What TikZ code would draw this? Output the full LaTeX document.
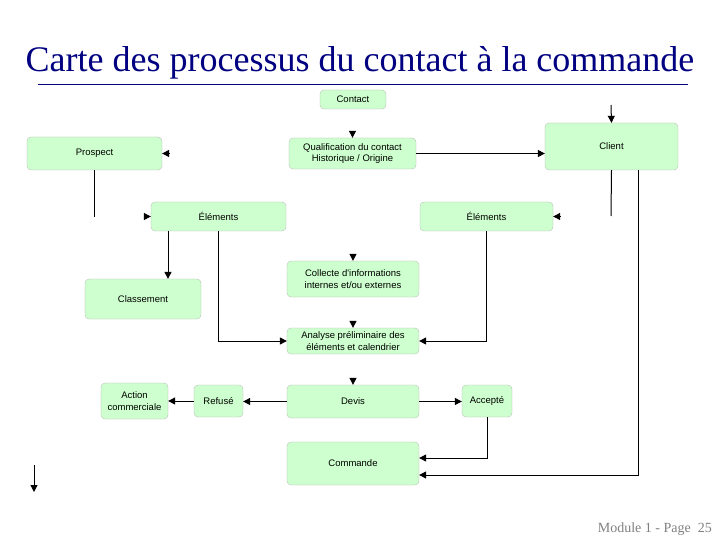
\documentclass[tikz,border=0pt]{standalone}
\usepackage{fontspec}
\setmainfont{Liberation Serif}
\newfontfamily\boxfont{Liberation Sans}
\usetikzlibrary{arrows.meta,calc}
\definecolor{boxgreen}{RGB}{206,255,206}
\definecolor{titlenavy}{RGB}{0,0,128}
\begin{document}
\begin{tikzpicture}[x=1pt,y=-1pt,
  box/.style={rectangle,rounded corners=4pt,fill=boxgreen,draw=black!30,line width=0.3pt,
    inner sep=1pt,align=center,font=\boxfont\fontsize{9.5}{11.5}\selectfont},
  arr/.style={-{Triangle[length=7pt,width=7pt]},line width=1pt},
  ln/.style={line width=1pt}]
\useasboundingbox (0,0) rectangle (720,540);
% title
\node[font=\fontsize{36}{40}\selectfont,text=titlenavy,anchor=base,inner sep=0] (title) at (360,72)
  {Carte des processus du contact à la commande};
\coordinate (ruleL) at (38,84);
\coordinate (ruleR) at (688,84);
\draw[titlenavy,line width=0.8pt] (ruleL) -- (ruleR);
% boxes
\node[box,minimum width=66,minimum height=19] (contact) at (353,99.5) {Contact};
\node[box,minimum width=135,minimum height=33] (prospect) at (94.5,153.5) {Prospect};
\node[box,minimum width=127,minimum height=31] (qual) at (352.5,153.5) {Qualification du contact\\Historique / Origine};
\node[box,minimum width=133,minimum height=47] (client) at (611.5,146.5) {Client};
\node[box,minimum width=135,minimum height=29] (elemL) at (218.5,216.5) {Éléments};
\node[box,minimum width=133,minimum height=29] (elemR) at (486.5,216.5) {Éléments};
\node[box,minimum width=132,minimum height=36] (collecte) at (353,279) {Collecte d'informations\\internes et/ou externes};
\node[box,minimum width=116,minimum height=40] (classement) at (143,299) {Classement};
\node[box,minimum width=132,minimum height=26] (analyse) at (353,341) {Analyse préliminaire des\\éléments et calendrier};
\node[box,minimum width=67,minimum height=36] (action) at (134.5,401) {Action\\commerciale};
\node[box,minimum width=49,minimum height=32] (refuse) at (218.5,401) {Refusé};
\node[box,minimum width=132,minimum height=33] (devis) at (353,401.5) {Devis};
\node[box,minimum width=50,minimum height=32] (accepte) at (487,401) {Accepté};
\node[box,minimum width=132,minimum height=43] (commande) at (353,463.5) {Commande};
% footer
\node[font=\fontsize{14}{16}\selectfont,text=black!50,anchor=base east,inner sep=0] (footer) at (712,532)
  {Module 1 - Page~~25};
% free coordinates
\coordinate (clientTop) at (611,105);
\coordinate (freeA) at (34,465);
\coordinate (freeB) at (34,492);
\coordinate (prospEnd) at (94.5,217);
\coordinate (clientEnd) at (611,216);
\coordinate (clientR) at (638,170);
\coordinate (elemLc) at (168,231);
% stub arrowheads (lines not shown in reference)
\coordinate (s1) at ($(qual.north)+(0,-7)$);
\coordinate (s2) at ($(collecte.north)+(0,-7)$);
\coordinate (s3) at ($(analyse.north)+(0,-7)$);
\coordinate (s4) at ($(devis.north)+(0,-7)$);
\coordinate (s5) at ($(prospect.east)+(7,0)$);
\coordinate (s6) at ($(elemL.west)+(-7,0)$);
\coordinate (s7) at ($(elemR.east)+(7,0)$);
\foreach \s/\t in {s1/qual.north,s2/collecte.north,s3/analyse.north,s4/devis.north,
                   s5/prospect.east,s6/elemL.west,s7/elemR.east}
  \draw[arr] (\s) -- (\t);
% connectors
\draw[arr] (qual.east) -- (qual.east -| client.west);
\draw[arr] (clientTop) -- (client.north);
\draw[arr] (freeA) -- (freeB);
\draw[ln] (prospect.south) -- (prospEnd);
\draw[ln] (client.south) -- (clientEnd);
\draw[arr] (elemLc) -- (elemLc |- classement.north);
\draw[arr] (elemL.south) -- (elemL.south |- analyse.west) -- (analyse.west);
\draw[arr] (elemR.south) -- (elemR.south |- analyse.east) -- (analyse.east);
\draw[arr] (clientR) -- (clientR |- 0,475) -- ($(commande.east)+(0,11.5)$);
\draw[arr] (accepte.south) -- (accepte.south |- 0,458) -- ($(commande.east)+(0,-5.5)$);
\draw[arr] (devis.east) -- (devis.east -| accepte.west);
\draw[arr] (devis.west) -- (devis.west -| refuse.east);
\draw[arr] (refuse.west) -- (refuse.west -| action.east);
\end{tikzpicture}
\end{document}
